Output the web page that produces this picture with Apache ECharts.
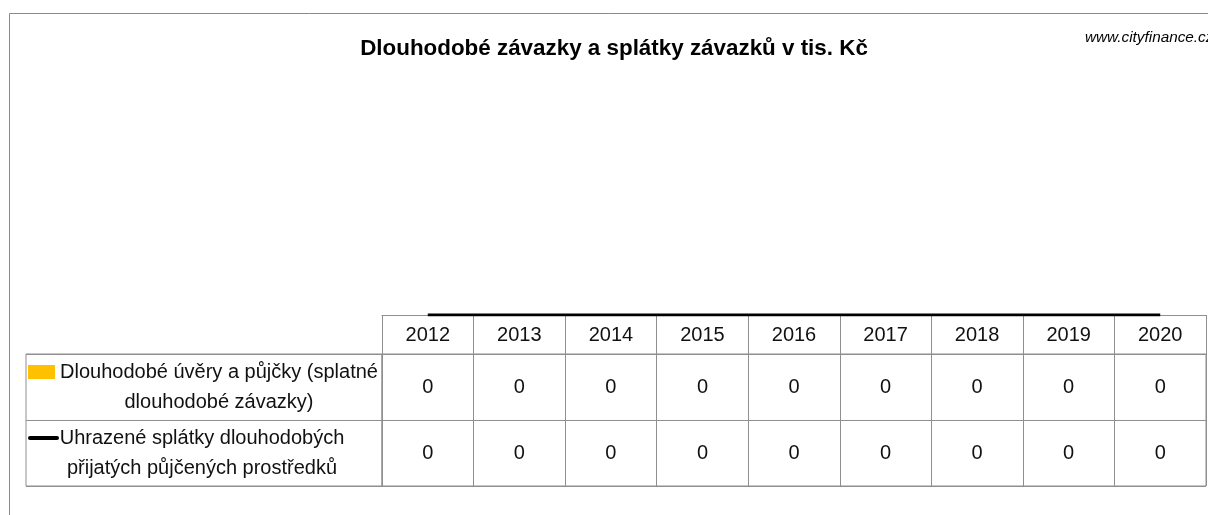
<!DOCTYPE html>
<html>
<head>
<meta charset="utf-8">
<title>Dlouhodobé závazky a splátky závazků v tis. Kč</title>
<script src="https://cdn.jsdelivr.net/npm/echarts@6/dist/echarts.min.js"></script>
<style>
  html, body { margin: 0; padding: 0; background: #fff; }
  #chart { width: 1208px; height: 515px; }
</style>
</head>
<body>
<div id="chart"></div>
<script>
// Years shown along the category axis and in the data-table header
const years = ['2012', '2013', '2014', '2015', '2016', '2017', '2018', '2019', '2020'];

// Series names (line breaks as wrapped in the table's legend column)
const seriesNames = [
  'Dlouhodobé úvěry a půjčky (splatné\ndlouhodobé závazky)',
  'Uhrazené splátky dlouhodobých\npřijatých půjčených prostředků'
];

// Values in thousands of CZK
const loansValues = [0, 0, 0, 0, 0, 0, 0, 0, 0];
const repaymentValues = [0, 0, 0, 0, 0, 0, 0, 0, 0];

const FONT = 'Liberation Sans, Arial, sans-serif';
const GRID_LINE = '#8f8f8f';
const BAR_COLOR = '#FFC000';
const LINE_COLOR = '#000000';
const TEXT_COLOR = '#111111';

// Cells of the data table: [column, row, value]
const tableCells = [];
[loansValues, repaymentValues].forEach(function (vals, r) {
  vals.forEach(function (v, c) { tableCells.push([c, r, v]); });
});

// Legend column text: key + centred, wrapped series name
function legendLabel(name, idx) {
  const lines = name.split('\n');
  const key = idx === 0 ? 'k1' : 'k2';
  const sp = idx === 0 ? 's1' : 's2';
  const gap = idx === 0 ? 'g1' : 'g2';
  const t = idx === 0 ? 't1' : 't2';
  return '{' + key + '|}{' + gap + '|}{' + t + '|' + lines[0] + '}\n' +
         '{' + sp + '|}{' + gap + '|}{' + t + '|' + lines[1] + '}';
}

const chart = echarts.init(document.getElementById('chart'), null, { renderer: 'canvas' });

chart.setOption({
  animation: false,
  backgroundColor: '#ffffff',
  textStyle: { fontFamily: FONT },
  title: [
    {
      text: 'Dlouhodobé závazky a splátky závazků v tis. Kč',
      left: 609,
      top: 33,
      textAlign: 'center',
      textStyle: { fontFamily: FONT, fontSize: 22.4, fontWeight: 'bold', color: '#000' }
    },
    {
      text: 'www.cityfinance.cz',
      left: 1080,
      top: 25,
      textStyle: { fontFamily: FONT, fontSize: 15.3, fontStyle: 'italic', fontWeight: 'normal', color: '#000' }
    }
  ],
  graphic: [
    {
      type: 'rect',
      silent: true,
      shape: { x: 9.5, y: 13.5, width: 1400, height: 700 },
      style: { fill: null, stroke: '#8a8a8a', lineWidth: 1 }
    }
  ],
  grid: [
    // plot area
    { left: 382, right: 2, top: 70, bottom: 200, containLabel: false },
    // data-table value cells
    { left: 382, right: 2, top: 354, bottom: 29, show: true, borderColor: GRID_LINE, borderWidth: 1 },
    // data-table legend column
    { left: 26, width: 356, top: 354, bottom: 29, show: true, borderColor: GRID_LINE, borderWidth: 1 }
  ],
  xAxis: [
    {
      type: 'category',
      gridIndex: 0,
      data: years,
      boundaryGap: true,
      axisLine: { show: true, lineStyle: { color: GRID_LINE, width: 1 } },
      axisTick: { show: true, length: 39, lineStyle: { color: GRID_LINE, width: 1 } },
      axisLabel: { show: true, fontFamily: FONT, fontSize: 20, lineHeight: 20, color: TEXT_COLOR, margin: 10 },
      splitLine: { show: false }
    },
    {
      type: 'category',
      gridIndex: 1,
      data: years,
      boundaryGap: true,
      axisLine: { show: false },
      axisTick: { show: false },
      axisLabel: { show: false },
      splitLine: { show: true, lineStyle: { color: GRID_LINE, width: 1 } }
    },
    {
      type: 'value',
      gridIndex: 2,
      show: false
    }
  ],
  yAxis: [
    {
      type: 'value',
      gridIndex: 0,
      min: 0,
      max: 1,
      show: false
    },
    {
      type: 'category',
      gridIndex: 1,
      data: ['0', '1'],
      inverse: true,
      axisLine: { show: false },
      axisTick: { show: false },
      axisLabel: { show: false },
      splitLine: { show: true, lineStyle: { color: GRID_LINE, width: 1 } }
    },
    {
      type: 'category',
      gridIndex: 2,
      data: seriesNames,
      inverse: true,
      axisLine: { show: false },
      axisTick: { show: false },
      splitLine: { show: true, lineStyle: { color: GRID_LINE, width: 1 } },
      axisLabel: {
        show: true,
        inside: true,
        margin: 2,
        align: 'left',
        verticalAlign: 'middle',
        formatter: function (v, i) { return legendLabel(v, i); },
        rich: {
          k1: { width: 27, height: 14, backgroundColor: BAR_COLOR },
          s1: { width: 27, height: 14 },
          k2: { width: 31, height: 4, backgroundColor: LINE_COLOR, borderRadius: 2 },
          s2: { width: 31, height: 4 },
          g1: { width: 4 },
          g2: { width: 1 },
          t1: { width: 320, align: 'center', fontFamily: FONT, fontSize: 20, lineHeight: 30, color: TEXT_COLOR },
          t2: { width: 284, align: 'center', fontFamily: FONT, fontSize: 20, lineHeight: 30, color: TEXT_COLOR }
        }
      }
    }
  ],
  series: [
    {
      name: seriesNames[0],
      type: 'bar',
      xAxisIndex: 0,
      yAxisIndex: 0,
      data: loansValues,
      barWidth: '55%',
      itemStyle: { color: BAR_COLOR }
    },
    {
      name: seriesNames[1],
      type: 'line',
      xAxisIndex: 0,
      yAxisIndex: 0,
      data: repaymentValues,
      symbol: 'none',
      z: 5,
      lineStyle: { color: LINE_COLOR, width: 3 }
    },
    {
      name: 'table',
      type: 'scatter',
      xAxisIndex: 1,
      yAxisIndex: 1,
      data: tableCells,
      symbolSize: 0,
      itemStyle: { opacity: 1 },
      label: {
        show: true,
        position: 'inside',
        fontFamily: FONT,
        fontSize: 20,
        color: TEXT_COLOR,
        formatter: function (p) { return String(p.value[2]); }
      }
    }
  ]
});
</script>
</body>
</html>
